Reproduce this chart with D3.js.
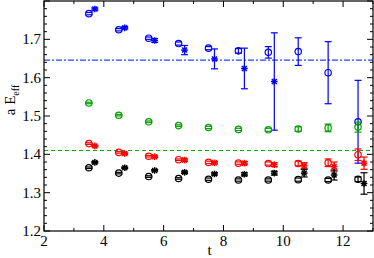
<!DOCTYPE html>
<html><head><meta charset="utf-8">
<script src="https://cdn.jsdelivr.net/npm/d3@7"></script>
<style>body{margin:0;background:#fff}svg{display:block}text{font-family:"Liberation Serif","Times New Roman",serif}</style>
</head><body>
<script>
const tCircle = [3.5,4.5,5.5,6.5,7.5,8.5,9.5,10.5,11.5,12.5];
const tStar   = [3.7,4.7,5.7,6.7,7.7,8.7,9.7,10.7,11.7,12.7];
const blueCircle    = [1.767,1.725,1.703,1.689,1.677,1.670,1.666,1.668,1.613,1.485];
const blueCircleErr = [0.003,0.003,0.003,0.004,0.004,0.006,0.015,0.036,0.081,0.108];
const blueStar      = [1.779,1.730,1.697,1.672,1.649,1.624,1.590];
const blueStarErr   = [0.003,0.003,0.005,0.012,0.026,0.053,0.127];
const greenCircle    = [1.534,1.502,1.485,1.475,1.470,1.465,1.464,1.466,1.469,1.471];
const greenCircleErr = [0.002,0.002,0.002,0.002,0.003,0.003,0.004,0.006,0.010,0.013];
const redCircle    = [1.428,1.405,1.395,1.386,1.379,1.377,1.376,1.376,1.378,1.399];
const redCircleErr = [0.002,0.002,0.002,0.002,0.003,0.003,0.004,0.006,0.010,0.015];
const redStar      = [1.422,1.402,1.394,1.385,1.378,1.377,1.373,1.370,1.368,1.377];
const redStarErr   = [0.002,0.002,0.002,0.003,0.003,0.004,0.005,0.008,0.012,0.016];
const blackCircle    = [1.365,1.351,1.342,1.337,1.335,1.333,1.333,1.334,1.333,1.335];
const blackCircleErr = [0.002,0.002,0.002,0.002,0.003,0.003,0.003,0.004,0.004,0.006];
const blackStar      = [1.379,1.365,1.358,1.353,1.349,1.348,1.351,1.351,1.346,1.324];
const blackStarErr   = [0.002,0.002,0.002,0.003,0.003,0.004,0.005,0.010,0.013,0.028];
const blueLevel = 1.646, greenLevel = 1.41;
const xTicks = [2,4,6,8,10,12];
const yTicks = [1.2,1.3,1.4,1.5,1.6,1.7];

const W=374,H=258, L=44, R=373, T=1, B=231;
const svg=d3.select("body").append("svg").attr("width",W).attr("height",H);
const x=d3.scaleLinear().domain([2,13]).range([L,R]);
const y=d3.scaleLinear().domain([1.2,1.8]).range([B,T]);

// reference lines
svg.append("line").attr("x1",x(2)).attr("x2",x(13)).attr("y1",y(blueLevel)).attr("y2",y(blueLevel))
  .attr("stroke","#2244ff").attr("stroke-width",1.2).attr("stroke-dasharray","6,2,2,2");
svg.append("line").attr("x1",x(2)).attr("x2",x(13)).attr("y1",y(greenLevel)).attr("y2",y(greenLevel))
  .attr("stroke","#00b000").attr("stroke-width",1.2).attr("stroke-dasharray","4,3");

function series(ts, vals, errs, color, kind){
  const g=svg.append("g");
  vals.forEach((v,i)=>{
    const cx=x(ts[i]), cy=y(v), e=errs[i];
    const y1=y(v+e), y2=y(v-e);
    if (y2-y1>4){
      g.append("line").attr("x1",cx).attr("x2",cx).attr("y1",y1).attr("y2",y2).attr("stroke",color).attr("stroke-width",1.2);
    }
    [y1,y2].forEach(yy=>g.append("line").attr("x1",cx-3.5).attr("x2",cx+3.5).attr("y1",yy).attr("y2",yy).attr("stroke",color).attr("stroke-width",1.2));
    if(kind==="circle"){
      g.append("circle").attr("cx",cx).attr("cy",cy).attr("r",3.2).attr("fill","none").attr("stroke",color).attr("stroke-width",1.2);
    } else {
      const s=3.3;
      [[0,1],[1,0],[0.75,0.75],[0.75,-0.75]].forEach(([dx,dy])=>{
        g.append("line").attr("x1",cx-dx*s).attr("x2",cx+dx*s).attr("y1",cy-dy*s).attr("y2",cy+dy*s)
          .attr("stroke",color).attr("stroke-width",1.5);
      });
    }
  });
}
series(tCircle,blueCircle,blueCircleErr,"#0000ff","circle");
series(tStar,blueStar,blueStarErr,"#0000ff","star");
series(tCircle,greenCircle,greenCircleErr,"#00a000","circle");
series(tCircle,redCircle,redCircleErr,"#ff0000","circle");
series(tStar,redStar,redStarErr,"#ff0000","star");
series(tCircle,blackCircle,blackCircleErr,"#000000","circle");
series(tStar,blackStar,blackStarErr,"#000000","star");

// axes: ticks inward on all sides
const ax=svg.append("g").attr("stroke","#000").attr("stroke-width",1);
d3.range(2,13.01,1).forEach(t=>{
  const len = (t%2===0)?6:3;
  ax.append("line").attr("x1",x(t)).attr("x2",x(t)).attr("y1",B).attr("y2",B-len);
  ax.append("line").attr("x1",x(t)).attr("x2",x(t)).attr("y1",T).attr("y2",T+len);
});
d3.range(0,31).forEach(i=>{
  const v=1.2+i*0.02;
  const len=(i%5===0)?6:3;
  ax.append("line").attr("x1",L).attr("x2",L+len).attr("y1",y(v)).attr("y2",y(v));
  ax.append("line").attr("x1",R).attr("x2",R-len).attr("y1",y(v)).attr("y2",y(v));
});
svg.append("rect").attr("x",L).attr("y",T).attr("width",R-L).attr("height",B-T)
  .attr("fill","none").attr("stroke","#000").attr("stroke-width",1.2);

svg.append("g").selectAll("text").data(xTicks).join("text")
  .attr("x",d=>x(d)).attr("y",246).attr("text-anchor","middle").attr("font-size",15).text(d=>d);
svg.append("g").selectAll("text").data(yTicks).join("text")
  .attr("x",41).attr("y",d=>y(d)+5).attr("text-anchor","end").attr("font-size",15).text(d=>d.toFixed(1));

svg.append("text").attr("x",x(7.5)+1).attr("y",255).attr("text-anchor","middle").attr("font-size",15).text("t");
const yl=svg.append("text").attr("transform","translate(15,100) rotate(-90)").attr("text-anchor","middle").attr("font-size",15);
yl.append("tspan").text("a E");
yl.append("tspan").attr("font-size",10).attr("dy",4).text("eff");
</script>
</body></html>
